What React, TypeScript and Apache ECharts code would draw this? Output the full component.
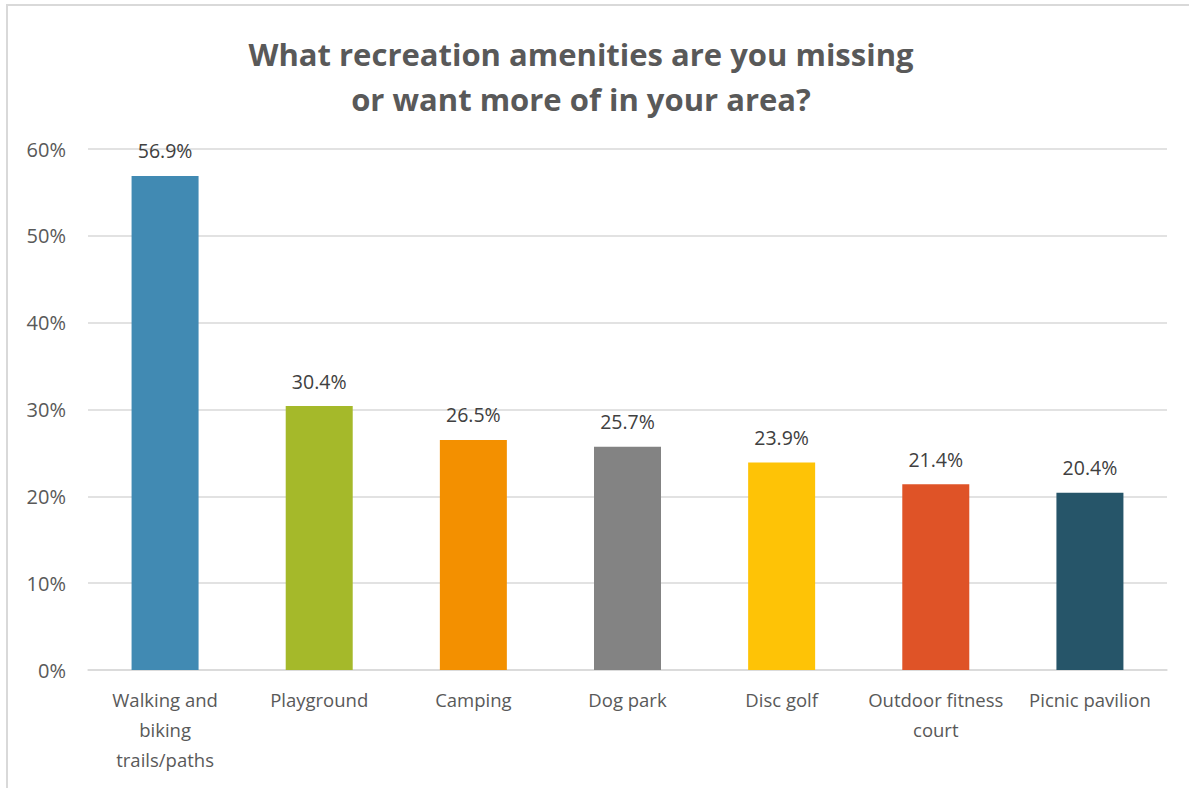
import React, { useEffect, useRef } from "react";
import * as echarts from "echarts";

const categories = [
  "Walking and biking trails/paths",
  "Playground",
  "Camping",
  "Dog park",
  "Disc golf",
  "Outdoor fitness court",
  "Picnic pavilion",
];
const wrappedLabels = [
  "Walking and\nbiking\ntrails/paths",
  "Playground",
  "Camping",
  "Dog park",
  "Disc golf",
  "Outdoor fitness\ncourt",
  "Picnic pavilion",
];
const values = [56.9, 30.4, 26.5, 25.7, 23.9, 21.4, 20.4];
const barColors = ["#418AB3", "#A5B92A", "#F39000", "#838383", "#FEC306", "#DF5327", "#265569"];
const titleText = "What recreation amenities are you missing\nor want more of in your area?";

export default function App() {
  const ref = useRef<HTMLDivElement>(null);
  useEffect(() => {
    if (!ref.current) return;
    const chart = echarts.init(ref.current, null, { renderer: "svg" });
    const font = "'Open Sans', 'Noto Sans', sans-serif";
    chart.setOption({
      animation: false,
      title: {
        text: titleText,
        left: 576,
        textAlign: "center",
        top: 26,
        textStyle: {
          fontFamily: font,
          fontWeight: "bold",
          fontSize: 31,
          color: "#595959",
          lineHeight: 45,
        },
      },
      grid: { left: 88, right: 22, top: 149, bottom: 118, containLabel: false },
      xAxis: {
        type: "category",
        data: categories,
        axisLine: { lineStyle: { color: "#d9d9d9", width: 1.5 } },
        axisTick: { show: false },
        axisLabel: {
          interval: 0,
          margin: 14,
          fontFamily: font,
          fontSize: 18.5,
          color: "#595959",
          lineHeight: 30,
          formatter: (_v: string, i: number) => wrappedLabels[i],
        },
      },
      yAxis: {
        type: "value",
        min: 0,
        max: 60,
        interval: 10,
        axisLine: { show: false },
        axisTick: { show: false },
        splitLine: { lineStyle: { color: "#d9d9d9", width: 1.5 } },
        axisLabel: {
          margin: 22,
          fontFamily: font,
          fontSize: 20,
          color: "#595959",
          formatter: (v: number) => `${v}%`,
        },
      },
      series: [
        {
          type: "bar",
          barWidth: 67,
          data: values.map((v, i) => ({ value: v, itemStyle: { color: barColors[i] } })),
          label: {
            show: true,
            position: "top",
            distance: 15,
            fontFamily: font,
            fontSize: 19.5,
            color: "#404040",
            formatter: (p: any) => `${p.value.toFixed(1)}%`,
          },
        },
      ],
    });
    return () => chart.dispose();
  }, []);
  return (
    <div style={{ position: "fixed", left: 0, top: 0, width: 1189, height: 788, overflow: "hidden", background: "#fff" }}>
      <div
        style={{
          position: "absolute",
          left: 6,
          top: 4,
          width: 1300,
          height: 900,
          border: "2px solid #d9d9d9",
          boxSizing: "border-box",
        }}
      />
      <div ref={ref} style={{ position: "absolute", left: 0, top: 0, width: 1189, height: 788 }} />
    </div>
  );
}
